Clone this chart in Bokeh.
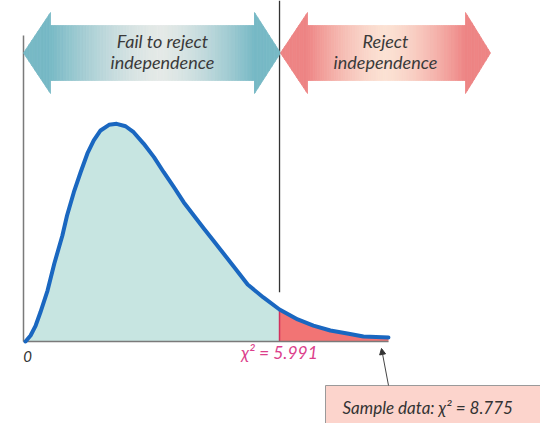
import numpy as np
from bokeh.plotting import figure
from bokeh.models import Range1d, Arrow, NormalHead
from bokeh.core.properties import value
from bokeh.embed import file_html
from bokeh.resources import INLINE

# ---- data ----
chi_x = [0.0, 0.12, 0.24, 0.35, 0.52, 0.68, 0.87, 0.98, 1.14, 1.30, 1.46, 1.61,
         1.77, 1.97, 2.15, 2.36, 2.55, 2.79, 3.03, 3.26, 3.50, 3.73, 3.97, 4.21,
         4.43, 4.67, 4.91, 5.24, 5.61, 5.991, 6.42, 6.79, 7.19, 7.59, 7.97, 8.56]
density = [0.0, 0.0055, 0.0147, 0.0267, 0.0470, 0.0719, 0.0977, 0.1161, 0.1376,
           0.1560, 0.1733, 0.1853, 0.1945, 0.1997, 0.2006, 0.1984, 0.1929, 0.1822,
           0.1699, 0.1560, 0.1422, 0.1284, 0.1161, 0.1040, 0.0931, 0.0811, 0.0691,
           0.0525, 0.0406, 0.0295, 0.0203, 0.0147, 0.0101, 0.0074, 0.0046, 0.0037]
critical_value = 5.991
sample_stat = 8.775
region_labels = [["Fail to reject", "independence"], ["Reject", "independence"]]
zero_label = "0"
critical_label = "χ² = 5.991"
sample_label = "Sample data: χ² = 8.775"

W, H = 540, 423
Y_TOP = 0.31429
p = figure(width=W, height=H, output_backend="svg", toolbar_location=None,
           x_range=Range1d(-0.5896, 12.146), y_range=Range1d(-0.07558, Y_TOP),
           x_axis_type=None, y_axis_type=None, min_border=0,
           outline_line_color=None, background_fill_color="white",
           border_fill_color="white")
p.grid.visible = False
# page-pixel ranges for decorations
p.extra_x_ranges = {"px": Range1d(0, W)}
p.extra_y_ranges = {"py": Range1d(H, 0)}
PX = dict(x_range_name="px", y_range_name="py")

ci = chi_x.index(critical_value)
# areas
p.varea(x=chi_x[:ci + 1], y1=[0] * (ci + 1), y2=density[:ci + 1], fill_color="#c7e5e1")
p.varea(x=chi_x[ci:], y1=[0] * (len(chi_x) - ci), y2=density[ci:], fill_color="#f27474")
p.segment(x0=[critical_value], y0=[0], x1=[critical_value], y1=[density[ci]],
          line_color="#d2305c", line_width=1.5)

# axes lines
p.segment(x0=[23], y0=[35], x1=[23], y1=[341], line_color="#7a7a7a", line_width=1.5, **PX)
p.segment(x0=[23], y0=[341], x1=[388], y1=[341], line_color="#7a7a7a", line_width=1.5, **PX)

# curve
p.line(chi_x, density, line_color="#1a67c0", line_width=4, line_cap="round", line_join="round")

# critical vertical line
p.segment(x0=[critical_value], y0=[density[ci] + 0.016], x1=[critical_value], y1=[Y_TOP],
          line_color="#333333", line_width=1.3)


def hexmix(c1, c2, t):
    a = np.array([int(c1[i:i + 2], 16) for i in (1, 3, 5)], dtype=float)
    b = np.array([int(c2[i:i + 2], 16) for i in (1, 3, 5)], dtype=float)
    c = a + (b - a) * t
    return "#%02x%02x%02x" % tuple(int(round(v)) for v in c)


def banner(tl, bl, br, tr, yc, hh, sh, center, edge, mid, n=90):
    edges = sorted(set(list(np.linspace(tl, tr, n + 1)) + [bl, br]))
    xs, ys, cols = [], [], []
    dl = center - bl
    dr = br - center
    for a, b in zip(edges[:-1], edges[1:]):
        m = (a + b) / 2
        if m < bl:
            ha = hh * (a - tl) / (bl - tl)
            hb = hh * (b - tl) / (bl - tl)
        elif m > br:
            ha = hh * (tr - a) / (tr - br)
            hb = hh * (tr - b) / (tr - br)
        else:
            ha = hb = sh
        d = (center - m) / dl if m < center else (m - center) / dr
        t = min(1.0, max(0.0, d)) ** 1.5
        col = hexmix(mid, edge, t)
        xs.append([a, b, b, a])
        ys.append([yc - ha, yc - hb, yc + hb, yc + ha])
        cols.append(col)
    p.patches(xs, ys, fill_color=cols, line_color=cols, line_width=0.8, **PX)


banner(23, 50, 254, 280, 52.5, 40.5, 27.5, 160, "#77b9c5", "#e4e9e7")
banner(280, 307, 465, 490, 52.5, 40.5, 27.5, 385, "#ee8484", "#fbe1d3")

font = value("Lato")
p.text(x=[162, 162], y=[40, 61], text=region_labels[0], text_font=font,
       text_font_style="italic", text_font_size="18px", text_color="#3a3a3a",
       text_align="center", text_baseline="middle", **PX)
p.text(x=[385, 385], y=[40, 61], text=region_labels[1], text_font=font,
       text_font_style="italic", text_font_size="18px", text_color="#3a3a3a",
       text_align="center", text_baseline="middle", **PX)

# axis labels
p.text(x=[27], y=[356], text=[zero_label], text_font=font, text_font_style="italic",
       text_font_size="15px", text_color="#333333", text_align="center",
       text_baseline="middle", **PX)
p.text(x=[critical_value], y=[-0.010], text=[critical_label], text_font=font,
       text_font_style="italic", text_font_size="17.5px", text_color="#dc3f8c",
       text_align="center", text_baseline="middle")

# sample data box and pointer
p.quad(left=[325], right=[560], top=[385], bottom=[440], fill_color="#fcd4cc",
       line_color="#9a9a9a", line_width=1, **PX)
p.text(x=[342], y=[407], text=[sample_label], text_font=font, text_font_style="italic",
       text_font_size="17px", text_color="#333333", text_align="left",
       text_baseline="middle", **PX)
p.add_layout(Arrow(end=NormalHead(size=6, fill_color="#333333", line_color="#333333"),
                   x_start=388, y_start=385, x_end=381, y_end=348,
                   line_color="#444444", line_width=1, **PX))

open("out.html", "w").write(file_html(p, INLINE))
